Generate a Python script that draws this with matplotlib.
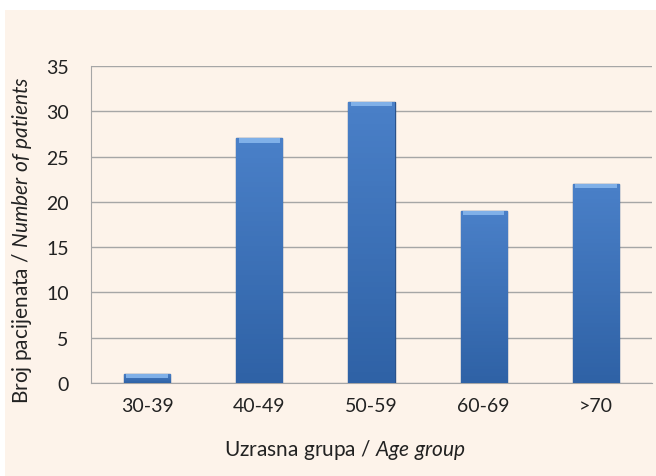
import numpy as np
import matplotlib.pyplot as plt
from matplotlib.colors import LinearSegmentedColormap

groups = ['30-39', '40-49', '50-59', '60-69', '>70']
patients = [1, 27, 31, 19, 22]
y_ticks = [0, 5, 10, 15, 20, 25, 30, 35]

plt.rcParams['font.family'] = ['Lato', 'DejaVu Sans']
plt.rcParams['mathtext.fontset'] = 'custom'
plt.rcParams['mathtext.rm'] = 'Lato'
plt.rcParams['mathtext.it'] = 'Lato:italic'

fig = plt.figure(figsize=(6.56, 4.77), dpi=100)
fig.patch.set_facecolor('white')
# cream panel behind the chart
fig.patches.append(plt.Rectangle((5 / 656, 0), 651 / 656, 466 / 477,
                                 transform=fig.transFigure, facecolor='#fdf3ea',
                                 edgecolor='none', zorder=-5))

ax = fig.add_axes([91 / 656, 1 - 384 / 477, 561 / 656, 317 / 477])
ax.set_zorder(2)
ax.set_facecolor('none')

x = np.arange(len(groups))
w = 0.41
bars = ax.bar(x, patients, width=w, color='#3a6fb6', edgecolor='#2a528a',
              linewidth=1.0, zorder=3)

# vertical gradient inside each bar, lighter at the top
grad = LinearSegmentedColormap.from_list('bar', ['#2f62a6', '#4a80c8'])
for b in bars:
    bx, by = b.get_x(), b.get_y()
    bw, bh = b.get_width(), b.get_height()
    im = ax.imshow(np.linspace(0, 1, 50).reshape(-1, 1), cmap=grad, origin='lower',
                   extent=[bx, bx + bw, by, by + bh], aspect='auto', zorder=3.5)
    im.set_clip_path(b)

# bevelled cap on top of each bar
cap = np.minimum(0.45, np.array(patients) * 0.5)
ax.bar(x, cap, bottom=np.array(patients) - cap, width=w * 0.9,
       color='#80b0e8', edgecolor='none', zorder=4)

ax.set_xlim(-0.5, len(groups) - 0.5)
ax.set_ylim(0, 35)
ax.set_yticks(y_ticks)
ax.set_xticks(x)
ax.set_xticklabels(groups)
ax.yaxis.grid(True, color='#a6a6a6', linewidth=1.0, zorder=0)
ax.set_axisbelow(True)
for s in ['top', 'right']:
    ax.spines[s].set_visible(False)
ax.spines['left'].set_color('#a6a6a6')
ax.spines['bottom'].set_color('#a6a6a6')
ax.tick_params(axis='both', length=0, labelsize=14, colors='#222222', pad=10)
ax.tick_params(axis='y', pad=16)

fig.text(345 / 656, 1 - 450 / 477, 'Uzrasna grupa / $\\it{Age\\ group}$',
         ha='center', va='center', fontsize=15, color='#222222')
fig.text(22 / 656, 1 - 240 / 477, 'Broj pacijenata / $\\it{Number\\ of\\ patients}$',
         ha='center', va='center', rotation=90, fontsize=15, color='#222222')

fig.savefig('out.png', dpi=100, facecolor=fig.get_facecolor())
